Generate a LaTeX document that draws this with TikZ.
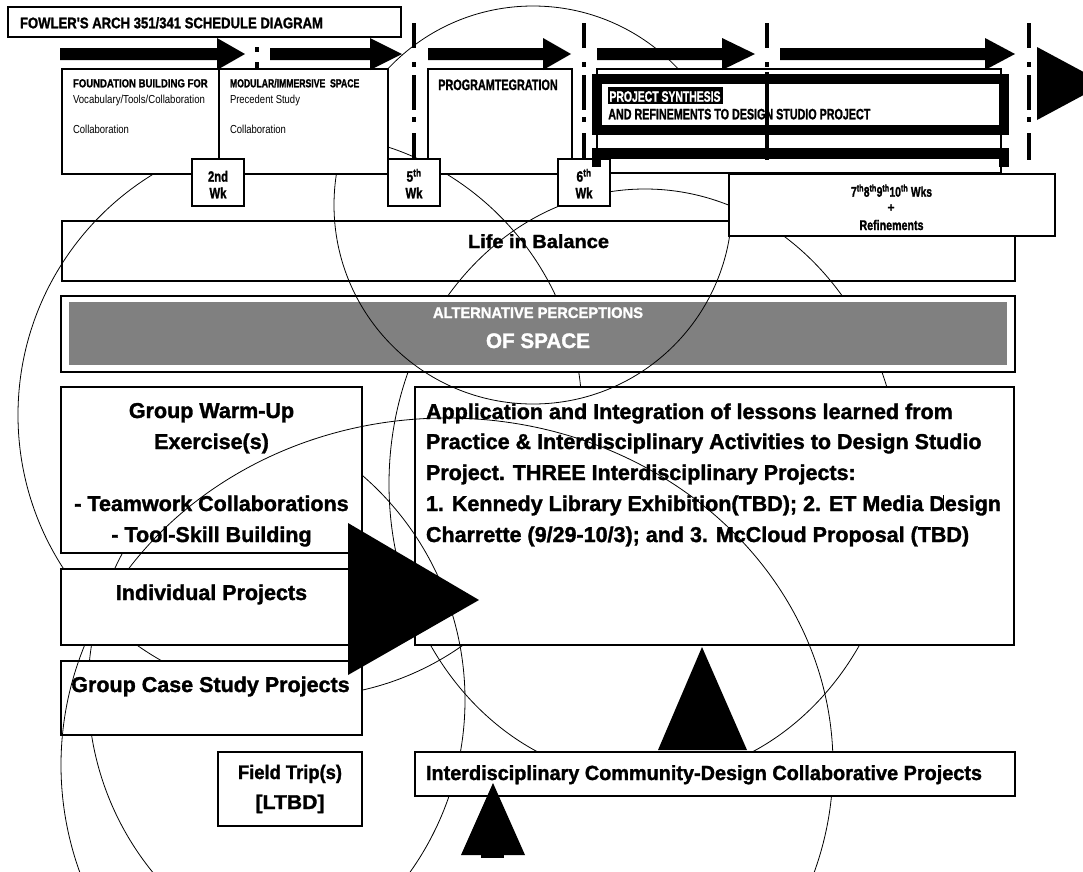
\documentclass[tikz,border=0pt]{standalone}
\usepackage{fontspec}
\setmainfont{Liberation Sans}[BoldFont={Liberation Sans Bold},BoldFeatures={FakeBold=1.5}]
\usepackage{graphicx}
\usetikzlibrary{calc}
% squeeze a text to a given width (in pt) keeping its height
\newcommand\fitw[2]{\resizebox{#1pt}{\height}{#2}}
\newcommand\fsz[1]{\fontsize{#1}{#1}\selectfont}

\begin{document}
\begin{tikzpicture}[x=1pt,y=-1pt,
  box/.style={draw=black,line width=1.1pt,fill=white,anchor=north west,inner sep=0pt,outer sep=0pt},
  openbox/.style={draw=black,line width=1.1pt,anchor=north west,inner sep=0pt,outer sep=0pt},
  ring/.style={draw=black,line width=0.8pt},
  lbl/.style={inner sep=0pt,outer sep=0pt},
  sepline/.style={draw=black,line width=3.6pt},
]
\useasboundingbox (0,0) rectangle (1083,871);

% ---- rings lying behind most of the boxes
\draw[ring] (300,415) circle[radius=282];
\draw[ring] (645,484) ellipse[x radius=256,y radius=295];
\draw[ring] (158.9,879.6) arc[start angle=139,end angle=215,radius=289];

% ---- lower boxes
\node[box,minimum width=599pt,minimum height=258pt] (app) at (415,387) {};
\node[box,minimum width=954pt,minimum height=76pt] (alt) at (61,296) {};
\node[anchor=north west,inner sep=0pt,outer sep=0pt,fill=black!50,minimum width=938pt,minimum height=63pt] (altgray) at (69,302) {};
\node[openbox,minimum width=953pt,minimum height=60pt] (life) at (62,221) {};
\node[box,minimum width=301pt,minimum height=74pt] (gcase) at (61,661) {};
\node[box,minimum width=144pt,minimum height=74pt] (trip) at (218,752) {};

% ring passing over the application box
\draw[ring] (316.5,442.8) arc[start angle=-60,end angle=40,radius=297];

\node[box,minimum width=301pt,minimum height=166pt] (warm) at (61,387) {};

% large oval and upper circle
\draw[ring] (447,765) ellipse[x radius=386,y radius=347];
\draw[ring] (533,205) circle[radius=199];

% ---- boxes in front
\node[box,minimum width=301pt,minimum height=76pt] (indiv) at (61,569) {};
\node[box,minimum width=600pt,minimum height=44pt] (inter) at (415,752) {};
\node[box,minimum width=157pt,minimum height=105pt] (found) at (62,69) {};
\node[box,minimum width=169pt,minimum height=105pt] (modul) at (219,69) {};
\node[box,minimum width=144pt,minimum height=105pt] (prog) at (428,69) {};
\node[box,minimum width=404pt,minimum height=104pt] (synth) at (597,69) {};
\node[box,minimum width=326pt,minimum height=62pt] (wks) at (729,174) {};
\node[box,minimum width=52pt,minimum height=47pt] (wk2) at (192,159) {};
\node[box,minimum width=52pt,minimum height=47pt] (wk5) at (388,159) {};
\node[box,minimum width=52pt,minimum height=47pt] (wk6) at (558,159) {};
\node[box,minimum width=393pt,minimum height=30pt] (title) at (8,7) {};

% ---- heavy frames around the synthesis phase
\draw[line width=10pt] (597,79) rectangle (1004,130);
\fill (592,148) rectangle (1009,159);
\fill (592,158) rectangle (601,167);
\fill (999,158) rectangle (1009,167);
\fill (607.5,87.3) rectangle (723,104);

% ---- week separators (dash-dot)
\foreach \a/\b in {47/52,62/69} {\draw[sepline] (257,\a) -- (257,\b);}
\foreach \sx in {414,584,1029} {
  \foreach \a/\b in {23/48,62/67,75/110,117/122,133/160} {\draw[sepline] (\sx,\a) -- (\sx,\b);}
}
\foreach \a/\b in {23/48,62/67,72/160} {\draw[sepline] (767,\a) -- (767,\b);}

% ---- timeline block arrows
\foreach \s/\h/\t in {60/217/245, 270/370/402, 428/543/571, 597/722/755, 780/985/1015} {
  \fill (\s,48) -- (\h,48) -- (\h,38) -- (\t,54) -- (\h,70) -- (\h,60) -- (\s,60) -- cycle;
}
\fill (1037,47) -- (1105,83.5) -- (1037,120) -- cycle;

% ---- big pointers
\fill (348,523) -- (479,600) -- (348,675) -- cycle;
\fill (658,750) -- (702,647) -- (747,750) -- cycle;
\fill (461,855) -- (493,783) -- (525,855) -- cycle;
\fill (481,854) rectangle (504,858);

% ---- texts
\node[lbl,anchor=base west] (t-title) at (20,28.3) {\fsz{15.4}\bfseries\fitw{303}{FOWLER\textquotesingle S ARCH 351/341 SCHEDULE DIAGRAM}};

\node[lbl,anchor=base west] (t-f1) at (73,87.3) {\fsz{11.6}\bfseries\fitw{134.7}{FOUNDATION BUILDING FOR}};
\node[lbl,anchor=base west] (t-f2) at (73,103.3) {\fsz{11.6}\fitw{132}{Vocabulary/Tools/Collaboration}};
\node[lbl,anchor=base west] (t-f3) at (73,133.3) {\fsz{11.6}\fitw{56}{Collaboration}};

\node[lbl,anchor=base west] (t-m1) at (230,87.3) {\fsz{11.6}\bfseries\fitw{129.3}{MODULAR/IMMERSIVE\ \ SPACE}};
\node[lbl,anchor=base west] (t-m2) at (230,103.3) {\fsz{11.6}\fitw{70}{Precedent Study}};
\node[lbl,anchor=base west] (t-m3) at (230,133.3) {\fsz{11.6}\fitw{56}{Collaboration}};

\node[lbl,anchor=base west] (t-prog) at (438.3,90) {\fsz{15}\bfseries\fitw{119.4}{PROGRAMTEGRATION}};

\node[lbl,anchor=base west,text=white] (t-s1) at (609.5,101.7) {\fsz{15}\bfseries\fitw{111}{PROJECT SYNTHESIS}};
\node[lbl,anchor=base west] (t-s2) at (608.3,119.3) {\fsz{15}\bfseries\fitw{262}{AND REFINEMENTS TO DESIGN STUDIO PROJECT}};

\node[lbl,anchor=base] (t-w2a) at (218,181.7) {\fsz{15}\bfseries\fitw{20}{2nd}};
\node[lbl,anchor=base] (t-w2b) at (218,198.3) {\fsz{15}\bfseries\fitw{17}{Wk}};
\node[lbl,anchor=base] (t-w5a) at (414,181.7) {\fsz{15}\bfseries\fitw{15}{5\textsuperscript{th}}};
\node[lbl,anchor=base] (t-w5b) at (414,198.3) {\fsz{15}\bfseries\fitw{17}{Wk}};
\node[lbl,anchor=base] (t-w6a) at (584,181.7) {\fsz{15}\bfseries\fitw{15}{6\textsuperscript{th}}};
\node[lbl,anchor=base] (t-w6b) at (584,198.3) {\fsz{15}\bfseries\fitw{17}{Wk}};

\node[lbl,anchor=base] (t-k1) at (891.5,196.7) {\fsz{14}\bfseries\fitw{81}{7\textsuperscript{th}8\textsuperscript{th}9\textsuperscript{th}10\textsuperscript{th} Wks}};
\node[lbl] (t-k2) at (891,208) {\fsz{12}\bfseries +};
\node[lbl,anchor=base] (t-k3) at (891.5,230) {\fsz{14}\bfseries\fitw{64}{Refinements}};

\node[lbl,anchor=base] (t-life) at (538.5,248) {\fsz{19}\bfseries\fitw{141}{Life in Balance}};
\node[lbl,anchor=base,text=white] (t-alt1) at (538,318) {\fsz{15.4}\bfseries\fitw{210}{ALTERNATIVE PERCEPTIONS}};
\node[lbl,anchor=base,text=white] (t-alt2) at (538,348) {\fsz{21}\bfseries\fitw{104}{OF SPACE}};

\begin{scope}[every node/.style={lbl,anchor=base,font=\fsz{21.5}\bfseries}]
\node (t-g1) at (211.5,418) {Group Warm-Up};
\node (t-g2) at (211.5,449) {Exercise(s)};
\node (t-g3) at (211.5,511) {- Teamwork Collaborations};
\node (t-g4) at (211.5,542) {- Tool-Skill Building};
\node (t-ind) at (211.5,600) {Individual Projects};
\node (t-gc) at (210.5,692) {Group Case Study Projects};
\end{scope}

\begin{scope}[every node/.style={lbl,anchor=base west,font=\fsz{21.5}\bfseries}]
\node (t-a1) at (426,419) {Application and Integration of lessons learned from};
\node (t-a2) at (426,449) {Practice \& Interdisciplinary Activities to Design Studio};
\node (t-a3) at (426,480) {Project. THREE Interdisciplinary Projects:};
\node (t-a4) at (426,511) {1. Kennedy Library Exhibition(TBD); 2. ET Media Design};
\node (t-a5) at (426,542) {Charrette (9/29-10/3); and 3. McCloud Proposal (TBD)};
\end{scope}
\draw[line width=0.7pt] (943,495) -- (943,511);

\node[lbl,anchor=base west] (t-inter) at (426,780) {\fsz{20.5}\bfseries\fitw{556}{Interdisciplinary Community-Design Collaborative Projects}};
\node[lbl,anchor=base] (t-trip1) at (290,779) {\fsz{19.6}\bfseries\fitw{104}{Field Trip(s)}};
\node[lbl,anchor=base] (t-trip2) at (290,809) {\fsz{20}\bfseries\fitw{69}{[LTBD]}};

\end{tikzpicture}
\end{document}
